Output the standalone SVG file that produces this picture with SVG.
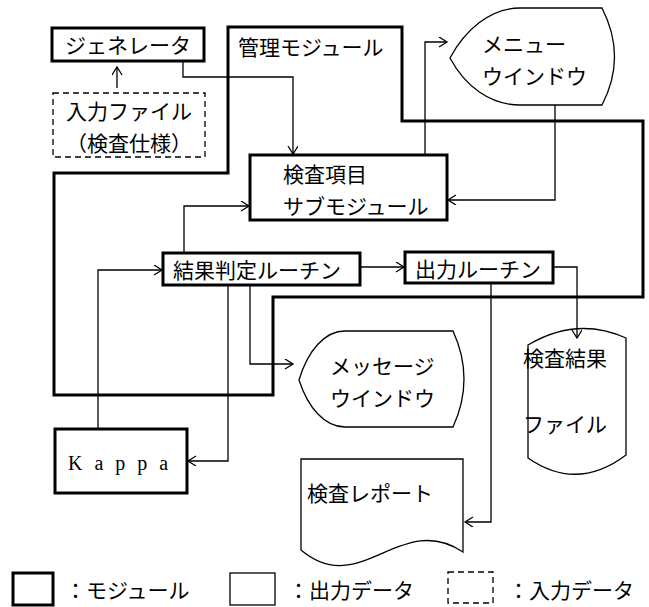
<svg xmlns="http://www.w3.org/2000/svg" width="649" height="607" viewBox="0 0 649 607">
<style>
.mod{fill:#fff;stroke:#000;stroke-width:3}
.out{fill:#fff;stroke:#000;stroke-width:1.3}
.inp{fill:#fff;stroke:#000;stroke-width:1.3;stroke-dasharray:6 4}
.con{fill:none;stroke:#000;stroke-width:1.3;marker-end:url(#ah)}
.t{font-family:"Noto Sans CJK JP","Noto Sans",sans-serif;font-size:21px;fill:#000;dominant-baseline:central}
.k{font-family:"Liberation Serif",serif;font-size:20px;fill:#000;dominant-baseline:central;letter-spacing:12px}
</style>
<defs>
<marker id="ah" markerUnits="userSpaceOnUse" markerWidth="12" markerHeight="12" refX="9" refY="5" orient="auto">
<path d="M1,0 L9,5 L1,10" fill="none" stroke="#000" stroke-width="1.3"/>
</marker>
</defs>
<rect width="649" height="607" fill="#fff"/>

<g id="mgmt">
<polygon points="228,27 402,27 402,121 643,121 643,297 273,297 273,395 54,395 54,173 228,173" fill="none" stroke="#000" stroke-width="3"/>
<text class="t" x="238" y="46">管理モジュール</text>
</g>

<g id="generator">
<rect class="mod" x="52" y="28" width="152" height="33"/>
<text class="t" x="128" y="44" text-anchor="middle">ジェネレータ</text>
</g>

<g id="inputfile">
<rect class="inp" x="53" y="93" width="152" height="64"/>
<text class="t" x="129" y="110" text-anchor="middle">入力ファイル</text>
<text class="t" x="129" y="142" text-anchor="middle">（検査仕様）</text>
</g>

<g id="submodule">
<rect class="mod" x="250" y="155" width="197" height="65"/>
<text class="t" x="283" y="173">検査項目</text>
<text class="t" x="283" y="205">サブモジュール</text>
</g>

<g id="menu">
<path class="out" d="M520,8 C490,8 465,30 450,58 C465,86 490,105 520,105 L602,105 Q627,57 602,8 Z"/>
<text class="t" x="482" y="43">メニュー</text>
<text class="t" x="482" y="75">ウインドウ</text>
</g>

<g id="judge">
<rect class="mod" x="163" y="253" width="197" height="32"/>
<text class="t" x="173" y="269">結果判定ルーチン</text>
</g>

<g id="output">
<rect class="mod" x="405" y="252" width="148" height="31"/>
<text class="t" x="415" y="268">出力ルーチン</text>
</g>

<g id="message">
<path class="out" d="M345,331 C325,331 308,350 299,380 C308,408 325,427 345,427 L453,427 Q475,379 453,331 Z"/>
<text class="t" x="330" y="365">メッセージ</text>
<text class="t" x="330" y="397">ウインドウ</text>
</g>

<g id="resultfile">
<path class="out" d="M528,345 Q577,316 626,338 L626,455 Q577,492 528,458 Z"/>
<text class="t" x="523" y="357">検査結果</text>
<text class="t" x="523" y="423">ファイル</text>
</g>

<g id="kappa">
<rect class="mod" x="55" y="429" width="132" height="64"/>
<text class="k" x="68" y="463">Kappa</text>
</g>

<g id="report">
<path class="out" d="M301,459 L463,459 L463,552 C400,510 360,600 301,550 Z"/>
<text class="t" x="307" y="492">検査レポート</text>
</g>

<g id="connectors">
<path class="con" d="M183,61 V77 H293 V154"/>
<path class="con" d="M117,88 V67"/>
<path class="con" d="M184,253 V206 H249"/>
<path class="con" d="M425,155 V42 H447"/>
<path class="con" d="M555,105 V200 H448"/>
<path class="con" d="M360,267 H404"/>
<path class="con" d="M98,429 V270 H162"/>
<path class="con" d="M228,285 V461 H188"/>
<path class="con" d="M250,285 V364 H293"/>
<path class="con" d="M553,267 H577 V338"/>
<path class="con" d="M491,283 V522 H465"/>
</g>

<g id="legend">
<rect class="mod" x="13" y="573" width="40" height="32"/>
<text class="t" x="65" y="589">：モジュール</text>
<rect class="out" x="230" y="573" width="45" height="32"/>
<text class="t" x="288" y="589">：出力データ</text>
<rect class="inp" x="448" y="572" width="45" height="31"/>
<text class="t" x="508" y="589">：入力データ</text>
</g>
</svg>
